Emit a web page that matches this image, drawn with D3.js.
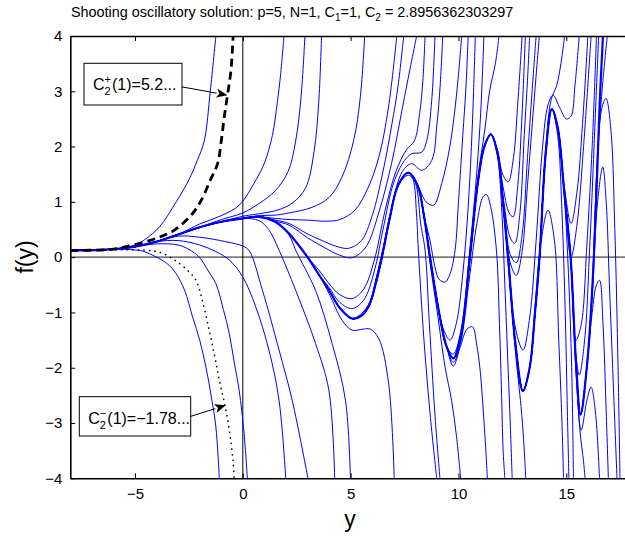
<!DOCTYPE html>
<html><head><meta charset="utf-8">
<script src="https://cdn.jsdelivr.net/npm/d3@7"></script>
<style>body{margin:0;background:#fff}</style></head>
<body>
<script>
// ---------- data ----------
const titleParts = ["Shooting oscillatory solution: p=5, N=1, C", "1", "=1, C", "2", " = 2.8956362303297"];
const xTickValues = [-5, 0, 5, 10, 15];
const yTickValues = [-4, -3, -2, -1, 0, 1, 2, 3, 4];
const xDomain = [-8, 18];
const yDomain = [-4, 4];

// main oscillatory solution (thick bundle)
const mainPath = [[-8,0.12],[-7,0.125],[-6,0.145],[-5,0.19],[-4,0.28],[-3,0.41],[-2,0.54],[-1,0.64],[0,0.70],[0.75,0.73],[1.5,0.64],[2.14,0.43],[2.5,0.26],[3.0,0.0],[3.5,-0.3],[4.0,-0.6],[4.5,-0.92],[5.06,-1.11],[5.5,-1.06],[5.85,-0.88],[6.15,-0.5],[6.45,0.0],[6.8,0.68],[7.2,1.3],[7.68,1.53],[8.1,1.3],[8.4,0.75],[8.68,0.0],[9.1,-1.0],[9.45,-1.62],[9.76,-1.83],[10.1,-1.45],[10.53,0.0],[10.9,1.35],[11.2,2.0],[11.5,2.22],[11.8,1.9],[12.05,1.05],[12.3,0.0],[12.65,-1.6],[12.99,-2.42],[13.3,-2.0],[13.55,-1.0],[13.76,0.0],[14.05,1.9],[14.33,2.68],[14.6,2.35],[14.9,1.2],[15.2,0.0],[15.45,-1.9],[15.66,-2.85],[15.95,-2.0],[16.2,-0.6],[16.4,1.2],[16.55,2.8],[16.7,4.0]];

// separatrix estimates
const dashedPlus = [[-8,0.12],[-6,0.145],[-5.1,0.22],[-4.02,0.34],[-3.17,0.49],[-2.33,0.79],[-1.9,1.05],[-1.5,1.4],[-1.17,1.69],[-1.0,2.1],[-0.86,2.54],[-0.71,2.93],[-0.55,3.38],[-0.45,4.0]];
const dottedMinus = [[-8,0.12],[-6,0.13],[-4.48,0.125],[-3.87,0.09],[-3.25,-0.03],[-2.56,-0.24],[-2.17,-0.42],[-1.9,-0.75],[-1.6,-1.25],[-1.3,-1.8],[-1.05,-2.3],[-0.79,-2.75],[-0.6,-3.2],[-0.45,-3.7],[-0.4,-4.0]];

// shooting trajectories leaving the bundle (from = x where they leave mainPath)
const earlyBranches = [
 {from:-6, pts:[[-5,0.22],[-4.5,0.33],[-3.86,0.55],[-3.09,1.0],[-2.5,1.4],[-2.11,1.75],[-1.79,2.1],[-1.51,3.0],[-1.25,4.0]]},
 {from:-6, pts:[[-5,0.13],[-4.64,0.11],[-4,0.0],[-3.5,-0.12],[-3.09,-0.3],[-2.7,-0.6],[-2.33,-1.08],[-2.0,-1.5],[-1.71,-1.99],[-1.45,-2.55],[-1.25,-3.07],[-1.09,-4.0]]},
 {from:-5, pts:[[-4,0.24],[-3,0.22],[-2.5,0.14],[-2.02,0.0],[-1.6,-0.25],[-1.25,-0.48],[-0.9,-0.95],[-0.63,-1.38],[-0.4,-1.9],[-0.17,-2.41],[0.06,-3.19],[0.21,-4.0]]},
 {from:-4, pts:[[-3,0.3],[-2,0.22],[-1.25,0.1],[-0.63,-0.05],[0,-0.36],[0.6,-0.9],[1.21,-1.68],[1.68,-2.59],[1.99,-4.0]]},
 {from:-4, pts:[[-3,0.38],[-2,0.36],[-0.79,0.28],[0,0.2],[0.29,0.12],[0.91,-0.6],[1.68,-1.68],[2.29,-2.59],[3.02,-4.0]]},
 {from:-3, pts:[[-2,0.6],[-1,0.75],[-0.17,0.94],[0.6,1.39],[1.0,1.7],[1.37,2.2],[1.6,2.8],[1.75,3.3],[1.91,4.0]]},
 {from:-2, pts:[[-1,0.68],[0,0.8],[0.75,0.97],[1.5,1.2],[2.1,1.55],[2.45,2.1],[2.7,2.9],[2.88,4.0]]},
 {from:-1, pts:[[0,0.74],[1.0,0.8],[1.68,0.86],[2.3,0.98],[2.91,1.25],[3.3,1.9],[3.52,2.8],[3.65,4.0]]},
 {from:0, pts:[[0.75,0.75],[1.5,0.76],[2.14,0.8],[3.2,0.9],[4.0,1.08],[4.6,1.45],[5.14,2.11],[5.45,2.9],[5.65,4.0]]},
 {from:0, pts:[[0.75,0.66],[1.2,0.5],[1.68,0.125],[2.45,-0.6],[3.37,-1.56],[3.99,-2.41],[4.26,-4.0]]},
 {from:0.75, pts:[[1.5,0.7],[2.2,0.68],[3.0,0.67],[3.83,0.65],[4.5,0.68],[5.2,0.85],[5.8,1.25],[6.3,1.8],[6.75,2.7],[7.14,4.0]]},
 {from:0.75, pts:[[1.5,0.67],[2.14,0.61],[3.0,0.42],[3.68,0.3],[4.3,0.2],[4.91,0.16],[5.5,0.3],[6.0,0.75],[6.5,1.55],[6.91,2.4],[7.2,3.1],[7.46,4.0]]},
 {from:0.75, pts:[[1.5,0.65],[2.14,0.58],[3.0,0.35],[3.8,0.17],[4.4,0.05],[5.06,-0.01],[5.7,0.18],[6.3,0.8],[6.9,1.7],[7.4,2.7],[7.75,3.4],[8.06,4.0]]},
 {from:1.5, pts:[[2.14,0.4],[2.45,0.125],[3.37,-0.6],[4.14,-1.56],[4.76,-2.59],[4.99,-4.0]]}
];
const middleBranches = [
 {from:3.5, pts:[[4.0,-0.66],[4.6,-1.14],[5.06,-1.32],[5.6,-1.3],[5.9,-1.3],[6.3,-1.47],[6.76,-2.28],[7.02,-4.0]]},
 {from:3.0, pts:[[3.5,-0.22],[4.0,-0.48],[4.5,-0.68],[5.06,-0.75],[5.6,-0.58],[6.1,-0.05],[6.6,0.85],[7.1,1.55],[7.6,1.95],[7.95,2.1],[8.2,2.6],[8.35,3.2],[8.45,4.0]]},
 {from:3.5, pts:[[4.0,-0.55],[4.5,-0.82],[5.06,-0.93],[5.6,-0.78],[6.1,-0.25],[6.5,0.5],[7.0,1.35],[7.5,1.75],[7.83,1.87],[8.3,1.9],[8.53,2.11],[8.76,2.84],[8.91,4.0]]},
 {from:5.06, pts:[[5.5,-1.02],[5.9,-0.8],[6.2,-0.35],[6.5,0.15],[6.9,0.9],[7.4,1.55],[7.83,1.69],[8.3,1.57],[8.76,1.75],[9.0,2.4],[9.15,3.1],[9.27,4.0]]},
 {from:5.5, pts:[[5.85,-0.86],[6.15,-0.45],[6.45,0.05],[6.8,0.7],[7.2,1.3],[7.68,1.48],[8.1,1.3],[8.5,1.0],[8.85,0.94],[9.22,1.33],[9.6,2.0],[9.9,2.9],[10.15,4.0]]},
 {from:7.68, pts:[[7.9,1.4],[8.05,0.8],[8.14,0.125],[8.4,-1.5],[8.7,-2.9],[8.99,-4.0]]},
 {from:7.68, pts:[[8.0,1.35],[8.25,0.6],[8.45,0.125],[8.65,-1.2],[8.9,-2.8],[9.14,-4.0]]},
 {from:8.4, pts:[[8.68,-0.1],[9.0,-0.95],[9.38,-1.99],[9.68,-2.59],[9.91,-3.25],[10.1,-4.0]]},
 {from:8.4, pts:[[8.68,0.3],[8.91,-0.18],[9.1,-0.4],[9.38,-0.45],[9.61,-0.3],[9.84,0.125],[10.0,1.0],[10.2,2.2],[10.35,3.1],[10.45,4.0]]},
 {from:9.1, pts:[[9.35,-1.35],[9.61,-1.5],[9.9,-1.2],[10.2,-0.3],[10.45,0.9],[10.6,2.0],[10.7,3.0],[10.78,4.0]]},
 {from:9.45, pts:[[9.76,-1.75],[10.1,-1.35],[10.53,0.1],[10.9,1.45],[11.22,2.3],[11.45,3.02],[11.71,3.5],[11.88,4.0]]},
 {from:10.1, pts:[[10.53,0.15],[10.8,1.3],[11.0,2.4],[11.1,3.2],[11.18,4.0]]},
 {from:9.45, pts:[[9.76,-1.97],[10.1,-1.6],[10.4,-1.3],[10.65,-1.26],[10.85,-1.6],[10.99,-1.99],[11.22,-3.19],[11.34,-4.0]]},
 {from:9.45, pts:[[9.76,-1.9],[10.1,-1.55],[10.5,-0.4],[10.85,0.6],[11.15,1.1],[11.3,1.13],[11.5,0.9],[11.76,0.125],[11.9,-1.2],[12.0,-2.5],[12.07,-3.49],[12.15,-4.0]]}
];
const lateBranches = [
 {from:11.5, pts:[[11.8,1.85],[12.0,0.9],[12.15,-0.5],[12.3,-2.0],[12.4,-3.0],[12.49,-4.0]]},
 {from:12.05, pts:[[12.3,-0.1],[12.65,-1.75],[12.9,-2.7],[13.02,-3.3],[13.12,-4.0]]},
 {from:11.5, pts:[[11.8,1.95],[12.05,1.5],[12.3,1.36],[12.55,1.8],[12.76,2.84],[12.95,4.0]]},
 {from:11.5, pts:[[11.8,1.9],[12.1,1.2],[12.35,0.8],[12.53,0.73],[12.75,1.3],[12.95,2.6],[13.1,4.0]]},
 {from:11.5, pts:[[11.8,1.88],[12.1,1.0],[12.4,0.35],[12.61,0.25],[12.85,0.8],[13.05,2.2],[13.2,3.2],[13.3,4.0]]},
 {from:11.8, pts:[[12.1,0.95],[12.4,0.05],[12.68,-0.1],[12.95,0.4],[13.2,1.8],[13.45,3.2],[13.6,4.0]]},
 {from:11.8, pts:[[12.1,0.9],[12.4,-0.1],[12.68,-0.33],[12.95,0.1],[13.2,1.3],[13.5,2.8],[13.75,4.0]]},
 {from:12.3, pts:[[12.65,-1.3],[12.99,-1.68],[13.3,-1.1],[13.6,0.3],[13.9,2.0],[14.15,2.75],[14.38,2.93],[14.7,2.7],[15.0,2.5],[15.22,2.55],[15.4,3.1],[15.6,4.0]]},
 {from:13.76, pts:[[14.05,2.0],[14.3,2.85],[14.55,3.1],[14.75,3.5],[14.92,4.0]]},
 {from:14.33, pts:[[14.6,2.3],[14.9,1.3],[15.22,0.61],[15.5,1.2],[15.75,2.4],[16.0,4.0]]},
 {from:14.33, pts:[[14.6,2.33],[14.9,1.2],[15.22,0.0],[15.5,0.6],[15.8,2.0],[16.15,4.0]]},
 {from:15.2, pts:[[15.45,-1.5],[15.7,-1.2],[15.95,0.2],[16.2,2.0],[16.4,4.0]]},
 {from:15.2, pts:[[15.45,-1.8],[15.6,-2.13],[15.85,-1.5],[16.1,0.3],[16.35,2.6],[16.5,4.0]]},
 {from:13.3, pts:[[13.55,-0.9],[13.8,0.2],[14.15,0.85],[14.45,0.3],[14.65,-1.5],[14.8,-3.0],[14.87,-4.0]]},
 {from:14.33, pts:[[14.6,2.2],[14.8,0.8],[14.95,-1.0],[15.05,-2.8],[15.12,-4.0]]},
 {from:14.6, pts:[[14.9,1.15],[15.1,-0.3],[15.25,-2.0],[15.33,-4.0]]},
 {from:15.2, pts:[[15.45,-2.0],[15.69,-3.13],[15.95,-2.6],[16.15,-2.35],[16.35,-2.8],[16.54,-4.0]]},
 {from:15.2, pts:[[15.45,-2.1],[15.65,-3.2],[15.8,-3.7],[15.87,-4.0]]},
 {from:15.95, pts:[[16.2,-1.0],[16.4,-0.5],[16.54,-0.42],[16.7,-1.2],[16.85,-2.8],[16.95,-4.0]]},
 {from:15.95, pts:[[16.2,-0.7],[16.45,1.0],[16.69,1.63],[16.85,1.0],[17.0,-0.5],[17.2,-2.5],[17.35,-4.0]]},
 {from:16.2, pts:[[16.45,1.8],[16.65,2.7],[16.84,2.87],[17.07,2.29],[17.25,0.5],[17.4,-2.0],[17.49,-4.0]]},
 {from:16.2, pts:[[16.45,1.9],[16.7,3.2],[16.9,4.0]]}
];

const annotPlus = {label:"(1)=5.2...", sup:"+", tail:[-2.83,3.08], tip:[-0.71,2.93]};
const annotMinus = {label:"(1)=\u22121.78...", sup:"\u2212", tail:[-2.42,-2.88], tip:[-0.79,-2.68]};

// ---------- drawing ----------
const W = 625, H = 539;
const font = "'Liberation Sans', Arial, Helvetica, sans-serif";
const svg = d3.select("body").append("svg").attr("width", W).attr("height", H)
  .style("font-family", font);

const x = d3.scaleLinear().domain(xDomain).range([70.3, 631]);
const y = d3.scaleLinear().domain(yDomain).range([478.3, 36]);

svg.append("clipPath").attr("id","clip").append("rect")
  .attr("x", x(xDomain[0])).attr("y", y(yDomain[1]))
  .attr("width", x(xDomain[1]) - x(xDomain[0])).attr("height", y(yDomain[0]) - y(yDomain[1]));

const plot = svg.append("g").attr("clip-path","url(#clip)");

// reference lines
plot.append("line").attr("x1", x(xDomain[0])).attr("x2", x(xDomain[1]))
  .attr("y1", y(0)).attr("y2", y(0)).attr("stroke", "#444").attr("stroke-width", 1.3);
plot.append("line").attr("x1", x(0)).attr("x2", x(0))
  .attr("y1", y(yDomain[0])).attr("y2", y(yDomain[1])).attr("stroke", "#000").attr("stroke-width", 1);

const line = d3.line().x(d => x(d[0])).y(d => y(d[1])).curve(d3.curveCatmullRom.alpha(0.5));

const allBranches = earlyBranches.concat(middleBranches, lateBranches);
const branchCurves = allBranches.map(b => mainPath.filter(p => p[0] <= b.from).concat(b.pts));

plot.selectAll("path.branch").data(branchCurves).join("path")
  .attr("class","branch").attr("d", line)
  .attr("fill","none").attr("stroke","#0000ff").attr("stroke-width",1);

plot.append("path").datum(mainPath).attr("d", line)
  .attr("fill","none").attr("stroke","#0000ff").attr("stroke-width",2.2);

plot.append("path").datum(dashedPlus).attr("d", line)
  .attr("fill","none").attr("stroke","#000").attr("stroke-width",2.8)
  .attr("stroke-dasharray","8,5");
plot.append("path").datum(dottedMinus).attr("d", line)
  .attr("fill","none").attr("stroke","#000").attr("stroke-width",1.4)
  .attr("stroke-dasharray","1.6,4");

// axes
const axL = svg.append("g").attr("transform", `translate(${x(xDomain[0])},0)`)
  .call(d3.axisLeft(y).tickValues(yTickValues).tickSizeInner(-5).tickSizeOuter(0).tickPadding(8));
const axB = svg.append("g").attr("transform", `translate(0,${y(yDomain[0])})`)
  .call(d3.axisBottom(x).tickValues(xTickValues).tickSizeInner(-5).tickSizeOuter(0).tickPadding(10));
const axT = svg.append("g").attr("transform", `translate(0,${y(yDomain[1])})`)
  .call(d3.axisTop(x).tickValues(xTickValues).tickSizeInner(-5).tickSizeOuter(0).tickFormat(""));
[axL, axB, axT].forEach(g => {
  g.attr("font-family", font).attr("font-size", 15);
  g.selectAll("text").attr("fill","#000");
  g.selectAll("line").attr("stroke","#000");
  g.select(".domain").attr("stroke","#000").attr("stroke-width",1.6);
});

// axis labels
svg.append("text").attr("x", 350).attr("y", 527).attr("text-anchor","middle")
  .attr("font-size", 23).text("y");
svg.append("text").attr("transform","translate(33,257) rotate(-90)").attr("text-anchor","middle")
  .attr("font-size", 23).text("f(y)");

// title
const title = svg.append("text").attr("x", 71).attr("y", 17).attr("font-size", 13);
titleParts.forEach((t, i) => {
  const sub = i === 1 || i === 3;
  const ts = title.append("tspan").text(t);
  if (sub) ts.attr("font-size", 10).attr("dy", 4);
  else if (i > 0) ts.attr("dy", -4);
});
const tw = title.node().getComputedTextLength();
title.attr("font-size", 13 * 444 / tw);

// annotations
function annotate(a, box, baseY) {
  const g = svg.append("g");
  g.append("rect").attr("x", box[0]).attr("y", box[1]).attr("width", box[2]).attr("height", box[3])
    .attr("fill","#fff").attr("stroke","#000").attr("stroke-width",1);
  const tx = box[0] + 9;
  const c = g.append("text").attr("x", tx).attr("y", baseY).attr("font-size", 16).text("C");
  const cw = c.node().getComputedTextLength();
  const s1 = g.append("text").attr("x", tx + cw).attr("y", baseY - 7).attr("font-size", 11).text(a.sup);
  const s2 = g.append("text").attr("x", tx + cw).attr("y", baseY + 5).attr("font-size", 11).text("2");
  const sw = Math.max(s1.node().getComputedTextLength(), s2.node().getComputedTextLength());
  g.append("text").attr("x", tx + cw + sw + 1).attr("y", baseY).attr("font-size", 16).text(a.label);
  // arrow
  const x1 = x(a.tail[0]), y1 = y(a.tail[1]), x2 = x(a.tip[0]), y2 = y(a.tip[1]);
  const ang = Math.atan2(y2 - y1, x2 - x1), L = 11, Wd = 4.5;
  const bx = x2 - L * Math.cos(ang), by = y2 - L * Math.sin(ang);
  g.append("line").attr("x1", x1).attr("y1", y1).attr("x2", bx).attr("y2", by)
    .attr("stroke","#000").attr("stroke-width",1);
  const nx = -Math.sin(ang), ny = Math.cos(ang);
  const notch = [x2 - 0.75 * L * Math.cos(ang), y2 - 0.75 * L * Math.sin(ang)];
  g.append("path").attr("d", `M${x2},${y2}L${bx + Wd*nx},${by + Wd*ny}L${notch[0]},${notch[1]}L${bx - Wd*nx},${by - Wd*ny}Z`)
    .attr("fill","#000");
}
annotate(annotPlus, [84, 63.3, 98, 41.7], 90);
annotate(annotMinus, [79.3, 396.7, 111.4, 39.3], 424);
</script>
</body></html>
